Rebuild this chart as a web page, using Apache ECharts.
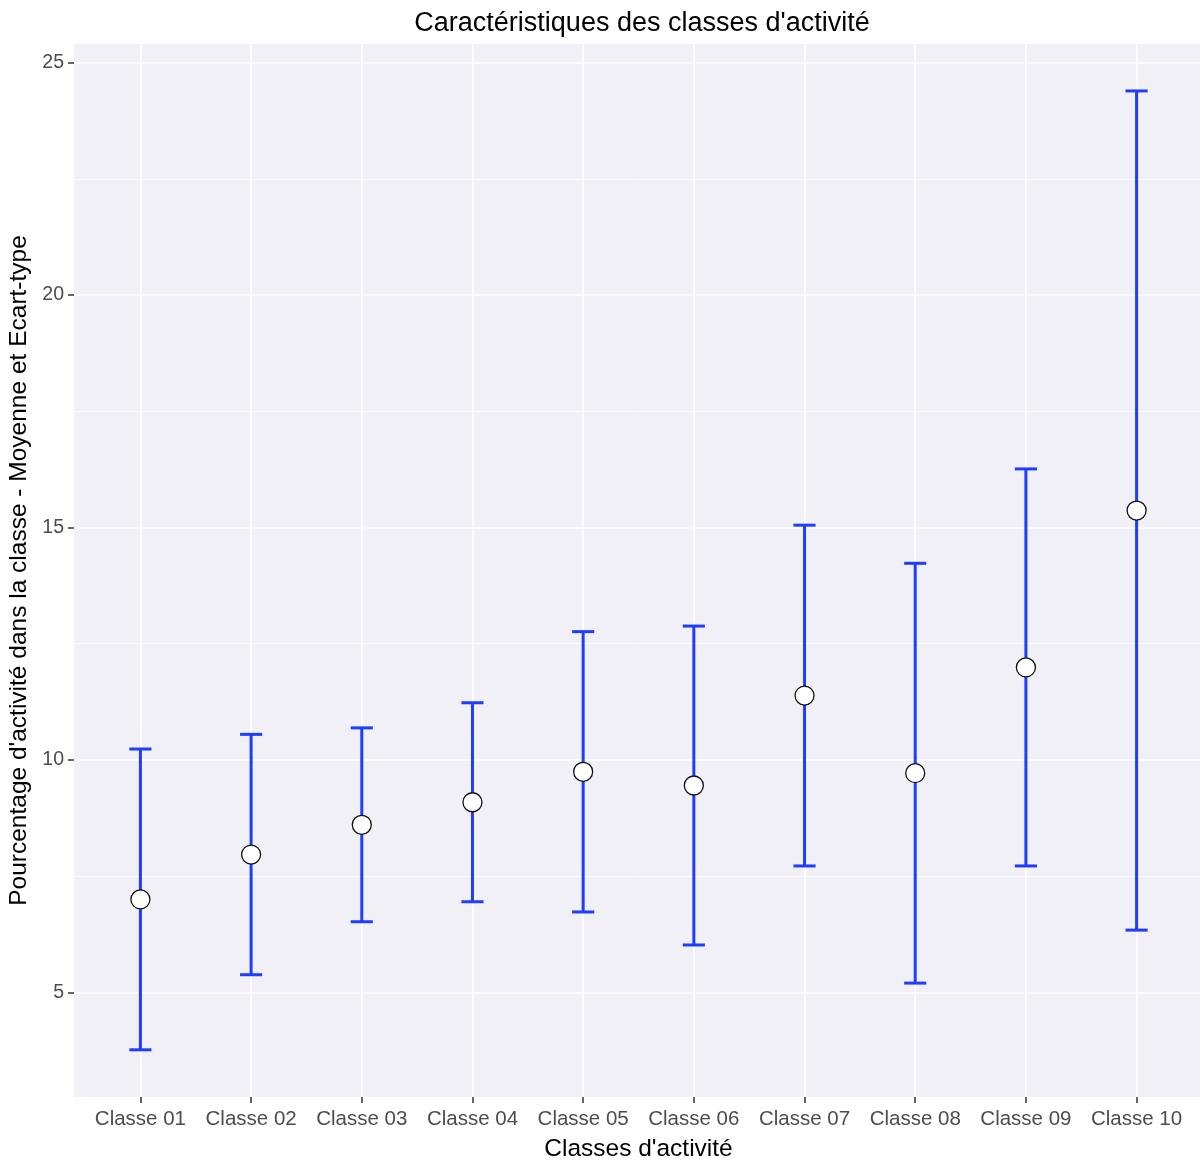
<!DOCTYPE html>
<html>
<head>
<meta charset="utf-8">
<script src="https://cdn.jsdelivr.net/npm/echarts@6/dist/echarts.min.js"></script>
<style>
html,body{margin:0;padding:0;background:#fff;}
#chart{width:1200px;height:1162px;}
</style>
</head>
<body>
<div id="chart"></div>
<script>
// ---- Data ----
const categories = ['Classe 01','Classe 02','Classe 03','Classe 04','Classe 05','Classe 06','Classe 07','Classe 08','Classe 09','Classe 10'];
const means = [7.00, 7.965, 8.605, 9.09, 9.745, 9.45, 11.385, 9.715, 11.99, 15.365];
const sds   = [3.235, 2.585, 2.085, 2.14, 3.015, 3.43, 3.665, 4.515, 4.27, 9.025];
const yTicks = [5, 10, 15, 20, 25];
const yMinorTicks = [7.5, 12.5, 17.5, 22.5];

const xIdx = categories.map((c, i) => i);
const errData = categories.map((c, i) => [i, means[i] - sds[i], means[i] + sds[i]]);
const ptData = categories.map((c, i) => [i, means[i]]);

const FONT = '"Liberation Sans", Arial, sans-serif';
const chart = echarts.init(document.getElementById('chart'), null, {renderer: 'canvas'});

chart.setOption({
  animation: false,
  backgroundColor: '#ffffff',
  title: {
    text: "Caractéristiques des classes d'activité",
    left: 637, top: 5, textAlign: 'center',
    textStyle: {fontFamily: FONT, fontSize: 27, fontWeight: 'normal', color: '#000'}
  },
  grid: {
    left: 74, right: -3, top: 44, bottom: 65,
    show: true, backgroundColor: '#F0F0F6', borderWidth: 0,
    containLabel: false, outerBoundsMode: 'none'
  },
  xAxis: {
    type: 'value', min: -0.6, max: 9.6,
    name: "Classes d'activité", nameLocation: 'middle', nameGap: 40,
    nameTextStyle: {fontFamily: FONT, fontSize: 24.5, color: '#000'},
    axisLine: {show: false, onZero: false},
    axisTick: {show: true, customValues: xIdx, length: 6, lineStyle: {color: '#333', width: 1.5}},
    axisLabel: {
      customValues: xIdx, margin: 12,
      fontFamily: FONT, fontSize: 20.5, color: '#4D4D4D',
      formatter: v => categories[Math.round(v)] || ''
    },
    splitLine: {show: true, lineStyle: {color: '#ffffff', width: 1.6}}
  },
  yAxis: [{
    type: 'value', min: 2.75, max: 25.4,
    name: "Pourcentage d'activité dans la classe - Moyenne et Ecart-type",
    nameLocation: 'middle', nameGap: 41,
    nameTextStyle: {fontFamily: FONT, fontSize: 24.5, color: '#000'},
    axisLine: {show: false, onZero: false},
    axisTick: {show: true, customValues: yTicks, length: 6, lineStyle: {color: '#333', width: 1.5}},
    axisLabel: {customValues: yTicks, margin: 10, fontFamily: FONT, fontSize: 19.5, color: '#4D4D4D'},
    splitLine: {show: true, lineStyle: {color: '#ffffff', width: 1.6}}
  }, {
    type: 'value', min: 2.75, max: 25.4, position: 'left',
    axisLine: {show: false, onZero: false},
    axisTick: {show: false, customValues: yMinorTicks},
    axisLabel: {show: false, customValues: yMinorTicks},
    splitLine: {show: true, lineStyle: {color: '#ffffff', width: 0.8}}
  }],
  series: [{
    type: 'custom',
    xAxisIndex: 0, yAxisIndex: 0,
    data: errData,
    z: 2,
    renderItem: function (params, api) {
      const x = api.value(0);
      const lo = api.coord([x, api.value(1)]);
      const hi = api.coord([x, api.value(2)]);
      const half = api.size([0.2, 0])[0] / 2;
      const style = {stroke: '#1F3DFF', lineWidth: 3, fill: null};
      return {
        type: 'group',
        children: [
          {type: 'line', shape: {x1: lo[0], y1: lo[1], x2: hi[0], y2: hi[1]}, style: style},
          {type: 'line', shape: {x1: hi[0] - half, y1: hi[1], x2: hi[0] + half, y2: hi[1]}, style: style},
          {type: 'line', shape: {x1: lo[0] - half, y1: lo[1], x2: lo[0] + half, y2: lo[1]}, style: style}
        ]
      };
    },
    encode: {x: 0, y: [1, 2]}
  }, {
    type: 'scatter',
    xAxisIndex: 0, yAxisIndex: 0,
    data: ptData,
    z: 3,
    symbol: 'circle', symbolSize: 19,
    itemStyle: {color: '#ffffff', borderColor: '#111', borderWidth: 1.3, opacity: 1}
  }]
});
</script>
</body>
</html>
